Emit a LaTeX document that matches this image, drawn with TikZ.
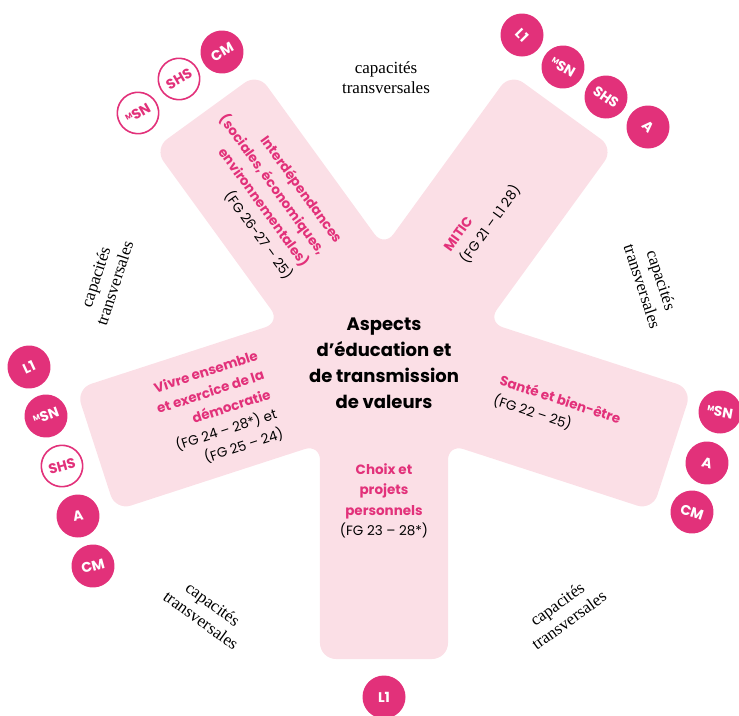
\documentclass[tikz,border=0pt]{standalone}
\usepackage{fontspec}
\setmainfont{Poppins}
\newfontfamily\serf{Liberation Serif}
\definecolor{mag}{HTML}{E2317A}
\definecolor{lpink}{HTML}{FBDFE6}
\newcommand\pk[1]{\textcolor{mag}{\bfseries #1}}
\newcommand\msn{\raisebox{0.3em}{\fontsize{7.5}{7.5}\selectfont M}SN}
\begin{document}
\begin{tikzpicture}[x=1pt,y=1pt,
  badge/.style={circle, fill=mag, text=white, minimum size=43pt, inner sep=0pt,
    font=\bfseries\fontsize{14}{14}\selectfont},
  obadge/.style={circle, draw=mag, line width=1.6pt, fill=white, text=mag,
    minimum size=41.4pt, inner sep=0pt, font=\bfseries\fontsize{14}{14}\selectfont},
  captext/.style={font=\serf\fontsize{17}{20}\selectfont, align=center, inner sep=0pt},
  armtext/.style={font=\fontsize{13.5}{20.5}\selectfont, inner sep=0pt},
  centertext/.style={font=\bfseries\fontsize{18}{26}\selectfont, align=center, inner sep=0pt}
]
\useasboundingbox (0,0) rectangle (739,-715);
\clip (0,0) rectangle (739,-715);
% star
\begin{scope}[shift={(384,-356)}]
\fill[lpink, rounded corners=16pt] (270:303) -- (281.93:309.69) -- (306:108.9)
  -- (330.07:309.69) -- (353.93:309.69) -- (18:108.9)
  -- (42.07:309.69) -- (65.93:309.69) -- (90:108.9)
  -- (114.07:309.69) -- (137.93:309.69) -- (162:108.9)
  -- (186.07:309.69) -- (209.93:309.69) -- (234:108.9)
  -- (258.07:309.69) -- cycle;
\end{scope}
% centre
\node[centertext] (centre) at (384,-363) {Aspects\\d’éducation et\\de transmission\\de valeurs};
% arm texts
\node[armtext, align=right, rotate=-54] (inter) at (264,-191)
  {\pk{Interdépendances}\\\pk{(sociales, économiques,}\\\pk{environnementales)}\\(FG 26-27 – 25)};
\node[armtext, align=left, rotate=54] (mitic) at (483,-219)
  {\pk{MITIC}\\(FG 21 – L1 28)};
\node[armtext, align=left, rotate=-18] (sante) at (557,-410)
  {\pk{Santé et bien-être}\\(FG 22 – 25)};
\node[armtext, align=right, rotate=18] (vivre) at (217,-412)
  {\pk{Vivre ensemble}\\\pk{et exercice de la}\\\pk{démocratie}\\(FG 24 – 28*) et\\(FG 25 – 24)};
\node[armtext, align=center] (choix) at (384,-501)
  {\pk{Choix et}\\\pk{projets}\\\pk{personnels}\\(FG 23 – 28*)};
% capacites transversales
\node[captext] (c1) at (386,-78) {capacités\\transversales};
\node[captext, rotate=-72] (c2) at (652,-283) {capacités\\transversales};
\node[captext, rotate=72] (c3) at (105,-280) {capacités\\transversales};
\node[captext, rotate=-36] (c4) at (207,-612) {capacités\\transversales};
\node[captext, rotate=36] (c5) at (563,-612) {capacités\\transversales};
% badges top-left
\node[obadge, rotate=30] (tlm) at (138,-113) {\msn};
\node[obadge, rotate=30] (tls) at (179,-79) {SHS};
\node[badge, rotate=30] (tlc) at (222,-52) {CM};
% badges top-right
\node[badge, rotate=-45] (trl) at (522,-35) {L1};
\node[badge, rotate=-30] (trm) at (563,-67) {\msn};
\node[badge, rotate=-35] (trs) at (606,-97) {SHS};
\node[badge, rotate=-45] (tra) at (648,-127) {A};
% badges left
\node[badge, rotate=25] (ll) at (29,-367) {L1};
\node[badge, rotate=20] (lm) at (46,-416) {\msn};
\node[obadge, rotate=15] (ls) at (62,-466) {SHS};
\node[badge, rotate=10] (la) at (78,-516) {A};
\node[badge, rotate=15] (lc) at (93,-566) {CM};
% badges right
\node[badge, rotate=-10] (rm) at (720,-412) {\msn};
\node[badge, rotate=-15] (ra) at (707,-463) {A};
\node[badge, rotate=-18] (rc) at (692,-512) {CM};
% bottom
\node[badge] (bl) at (384,-697) {L1};
\end{tikzpicture}
\end{document}
